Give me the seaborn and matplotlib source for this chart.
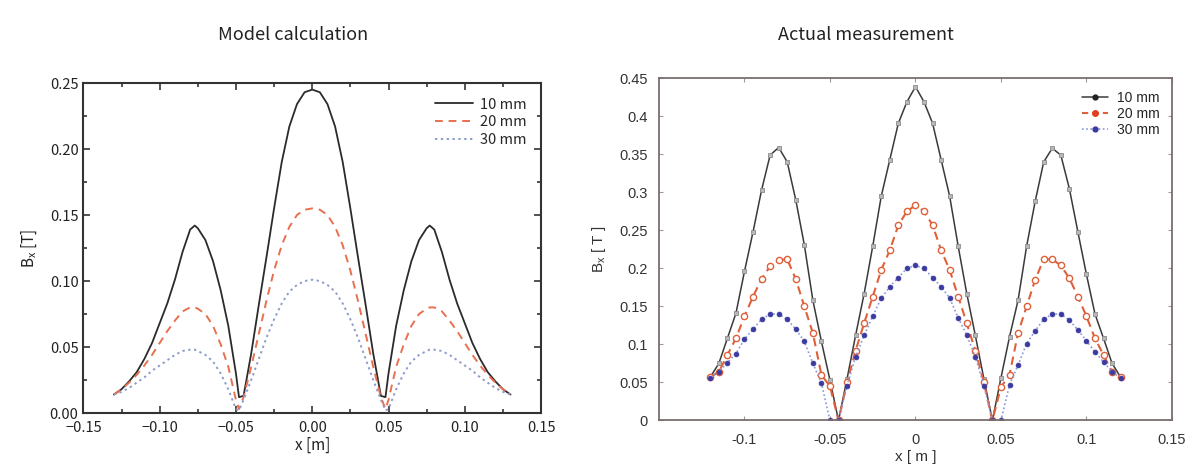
import matplotlib
matplotlib.use("Agg")
import matplotlib.pyplot as plt
from matplotlib.lines import Line2D
from matplotlib.ticker import MultipleLocator, FixedLocator
import seaborn as sns
import numpy as np

# ---- model calculation (left panel) ----
model_x = [-0.130, -0.125, -0.120, -0.115, -0.110, -0.105, -0.100, -0.095, -0.090,
           -0.085, -0.080, -0.077, -0.075, -0.070, -0.065, -0.060, -0.055, -0.050,
           -0.048, -0.045, -0.040, -0.035, -0.030, -0.025, -0.020, -0.015, -0.010,
           -0.005, 0.000, 0.005, 0.010, 0.015, 0.020, 0.025, 0.030, 0.035, 0.040,
           0.045, 0.048, 0.050, 0.055, 0.060, 0.065, 0.070, 0.075, 0.077, 0.080,
           0.085, 0.090, 0.095, 0.100, 0.105, 0.110, 0.115, 0.120, 0.125, 0.130]
model_10 = [0.014, 0.018, 0.024, 0.031, 0.041, 0.053, 0.068, 0.083, 0.101,
            0.122, 0.139, 0.142, 0.140, 0.131, 0.115, 0.093, 0.066, 0.030,
            0.012, 0.013, 0.045, 0.082, 0.118, 0.155, 0.190, 0.217, 0.234,
            0.243, 0.245, 0.243, 0.234, 0.217, 0.190, 0.155, 0.118, 0.082, 0.045,
            0.013, 0.012, 0.030, 0.066, 0.093, 0.115, 0.131, 0.140, 0.142, 0.139,
            0.122, 0.101, 0.083, 0.068, 0.053, 0.041, 0.031, 0.024, 0.018, 0.014]
model_20 = [0.014, 0.018, 0.023, 0.029, 0.036, 0.044, 0.053, 0.062, 0.070,
            0.077, 0.080, 0.080, 0.079, 0.075, 0.066, 0.052, 0.035, 0.010,
            0.003, 0.012, 0.035, 0.060, 0.085, 0.108, 0.127, 0.141, 0.150,
            0.154, 0.155, 0.154, 0.150, 0.141, 0.127, 0.108, 0.085, 0.060, 0.035,
            0.012, 0.003, 0.010, 0.035, 0.052, 0.066, 0.075, 0.079, 0.080, 0.080,
            0.077, 0.070, 0.062, 0.053, 0.044, 0.036, 0.029, 0.023, 0.018, 0.014]
model_30 = [0.014, 0.016, 0.019, 0.023, 0.027, 0.032, 0.036, 0.040, 0.044,
            0.047, 0.048, 0.048, 0.047, 0.044, 0.039, 0.030, 0.018, 0.003,
            0.002, 0.010, 0.025, 0.041, 0.057, 0.071, 0.083, 0.092, 0.097,
            0.100, 0.101, 0.100, 0.097, 0.092, 0.083, 0.071, 0.057, 0.041, 0.025,
            0.010, 0.002, 0.003, 0.018, 0.030, 0.039, 0.044, 0.047, 0.048, 0.048,
            0.047, 0.044, 0.040, 0.036, 0.032, 0.027, 0.023, 0.019, 0.016, 0.014]

# ---- actual measurement (right panel) ----
meas_x = [-0.120, -0.115, -0.110, -0.105, -0.100, -0.095, -0.090, -0.085, -0.080,
          -0.075, -0.070, -0.065, -0.060, -0.055, -0.050, -0.045, -0.040, -0.035,
          -0.030, -0.025, -0.020, -0.015, -0.010, -0.005, 0.000, 0.005, 0.010,
          0.015, 0.020, 0.025, 0.030, 0.035, 0.040, 0.045, 0.050, 0.055, 0.060,
          0.065, 0.070, 0.075, 0.080, 0.085, 0.090, 0.095, 0.100, 0.105, 0.110,
          0.115, 0.120]
meas_10 = [0.057, 0.075, 0.108, 0.141, 0.196, 0.248, 0.303, 0.349, 0.359,
           0.340, 0.290, 0.231, 0.158, 0.104, 0.053, 0.000, 0.055, 0.112,
           0.167, 0.229, 0.295, 0.343, 0.391, 0.419, 0.439, 0.419, 0.391,
           0.343, 0.295, 0.229, 0.167, 0.112, 0.055, 0.000, 0.056, 0.110, 0.158,
           0.229, 0.288, 0.340, 0.358, 0.349, 0.305, 0.248, 0.192, 0.140, 0.108,
           0.075, 0.057]
meas_20 = [0.057, 0.064, 0.086, 0.108, 0.137, 0.163, 0.186, 0.203, 0.211,
           0.212, 0.186, 0.150, 0.115, 0.060, 0.045, 0.000, 0.050, 0.092,
           0.128, 0.163, 0.198, 0.224, 0.257, 0.275, 0.283, 0.275, 0.257,
           0.224, 0.198, 0.163, 0.128, 0.092, 0.050, 0.000, 0.044, 0.060, 0.115,
           0.150, 0.185, 0.212, 0.212, 0.204, 0.187, 0.163, 0.137, 0.108, 0.086,
           0.064, 0.057]
meas_30 = [0.056, 0.064, 0.076, 0.088, 0.107, 0.120, 0.133, 0.140, 0.140,
           0.133, 0.120, 0.104, 0.075, 0.049, 0.000, 0.000, 0.046, 0.084,
           0.112, 0.137, 0.161, 0.176, 0.188, 0.200, 0.204, 0.200, 0.188,
           0.176, 0.161, 0.135, 0.112, 0.084, 0.046, 0.000, 0.000, 0.047, 0.073,
           0.101, 0.118, 0.133, 0.140, 0.140, 0.132, 0.119, 0.105, 0.090, 0.077,
           0.064, 0.056]

labels = ["10 mm", "20 mm", "30 mm"]
titles = ["Model calculation", "Actual measurement"]
left_xticks = [-0.15, -0.10, -0.05, 0.00, 0.05, 0.10, 0.15]
left_yticks = [0.00, 0.05, 0.10, 0.15, 0.20, 0.25]
right_xticks = [-0.1, -0.05, 0, 0.05, 0.1, 0.15]
right_yticks = [0, 0.05, 0.1, 0.15, 0.2, 0.25, 0.3, 0.35, 0.4, 0.45]

sns.set_style("ticks")
plt.rcParams["font.family"] = ["Noto Sans CJK JP", "DejaVu Sans"]
plt.rcParams["axes.unicode_minus"] = True
helv = ["Liberation Sans", "DejaVu Sans"]

fig = plt.figure(figsize=(11.91, 4.65), dpi=100)
fig.patch.set_facecolor("white")

# ---------------- left: model ----------------
ax1 = fig.add_axes([0.0700, 0.1118, 0.3843, 0.7097])
model_styles = [("#2b2b2b", "-", 1.3), ("#e8704e", (0, (4, 3)), 1.4), ("#8c9ccc", (0, (1.2, 1.8)), 1.4)]
for ys, lab, (c, ls, lw) in zip([model_10, model_20, model_30], labels, model_styles):
    sns.lineplot(x=model_x, y=ys, ax=ax1, color=c, linestyle=ls, linewidth=lw,
                 label=lab, estimator=None, sort=False)

ax1.set_xlim(-0.15, 0.15)
ax1.set_ylim(0, 0.25)
ax1.xaxis.set_major_locator(FixedLocator(left_xticks))
ax1.yaxis.set_major_locator(FixedLocator(left_yticks))
ax1.xaxis.set_minor_locator(MultipleLocator(0.025))
ax1.yaxis.set_minor_locator(MultipleLocator(0.025))
ax1.set_xticklabels([f"{v:.2f}".replace("-", "\u2212") for v in left_xticks])
ax1.set_yticklabels([f"{v:.2f}" for v in left_yticks])
ax1.tick_params(which="both", direction="in", top=True, right=True, colors="#333333",
                labelsize=10.5, width=1.2, labelcolor="#222222")
ax1.tick_params(which="major", length=5)
ax1.tick_params(which="minor", length=3)
ax1.tick_params(axis="x", pad=6)
for sp in ax1.spines.values():
    sp.set_visible(True)
    sp.set_linewidth(1.5)
    sp.set_color("#333333")
ax1.set_xlabel("x [m]", fontsize=11, labelpad=1, color="#222222")
ax1.set_ylabel("B$_\\mathregular{x}$ [T]", fontsize=11, labelpad=8, color="#222222")
ax1.legend(loc="upper right", frameon=False, fontsize=10.5, handlelength=2.6,
           handletextpad=0.5, labelspacing=0.25, borderaxespad=0.6)

# ---------------- right: measurement ----------------
ax2 = fig.add_axes([0.5533, 0.0957, 0.4307, 0.7359])
meas_styles = [
    dict(color="#3a3a3a", linestyle="-", linewidth=1.1, marker="s", markersize=3,
         markerfacecolor="#b8b8b8", markeredgecolor="#8a8a8a", markeredgewidth=0.6),
    dict(color="#e0603a", linestyle=(0, (4, 2.5)), linewidth=1.5, marker="o", markersize=4.5,
         markerfacecolor="white", markeredgecolor="#e0603a", markeredgewidth=1.0),
    dict(color="#8a98dc", linestyle=(0, (1, 1.5)), linewidth=1.2, marker="o", markersize=3.5,
         markerfacecolor="#3a3aa0", markeredgecolor="#3a3aa0", markeredgewidth=0.5),
]
for ys, st in zip([meas_10, meas_20, meas_30], meas_styles):
    sns.lineplot(x=meas_x, y=ys, ax=ax2, estimator=None, sort=False, **st)

ax2.set_xlim(-0.15, 0.15)
ax2.set_ylim(0, 0.45)
ax2.xaxis.set_major_locator(FixedLocator(right_xticks))
ax2.yaxis.set_major_locator(FixedLocator(right_yticks))
ax2.set_xticklabels([f"{v:g}" for v in right_xticks], family=helv)
ax2.set_yticklabels([f"{v:g}" for v in right_yticks], family=helv)
ax2.tick_params(direction="in", top=True, right=True, length=3, width=0.8,
                colors="#a09898", labelsize=10.5, labelcolor="#333333")
ax2.tick_params(axis="x", pad=9)
ax2.tick_params(axis="y", pad=8)
for sp in ax2.spines.values():
    sp.set_visible(True)
    sp.set_linewidth(1.3)
    sp.set_color("#7a6e6e")
ax2.set_xlabel("x [ m ]", fontsize=11, labelpad=2, color="#333333", family=helv)
ax2.set_ylabel("B$_\\mathregular{x}$ [ T ]", fontsize=11, labelpad=8, color="#333333",
               family=helv)

handles = [
    Line2D([], [], color="#3a3a3a", linestyle="-", linewidth=1.1, marker="o", markersize=3.5,
           markerfacecolor="#222222", markeredgecolor="#222222"),
    Line2D([], [], color="#e0603a", linestyle=(0, (3, 2)), linewidth=1.5, marker="o", markersize=4,
           markerfacecolor="#e04020", markeredgecolor="#e04020"),
    Line2D([], [], color="#8a98dc", linestyle=(0, (1, 1.5)), linewidth=1.2, marker="o", markersize=3.5,
           markerfacecolor="#3a3aa0", markeredgecolor="#3a3aa0"),
]
ax2.legend(handles, labels, loc="upper right", frameon=False,
           prop={"family": helv, "size": 10},
           handlelength=1.9, handletextpad=0.6, labelspacing=0.15, borderaxespad=0.5)

# ---------------- titles ----------------
fig.text(0.246, 0.925, titles[0], ha="center", va="center", fontsize=13, color="#222222")
fig.text(0.727, 0.925, titles[1], ha="center", va="center", fontsize=13, color="#222222")

fig.savefig("out.png", dpi=100, facecolor="white")
